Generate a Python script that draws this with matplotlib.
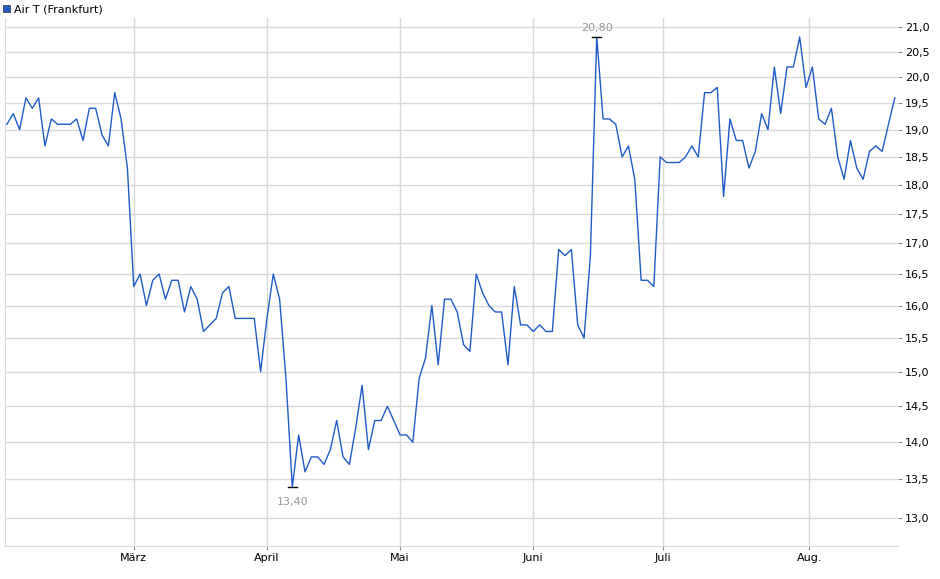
import numpy as np
import matplotlib.pyplot as plt
from matplotlib.ticker import FixedLocator, NullLocator

# daily closing prices
prices = [19.1, 19.3, 19.0, 19.6, 19.4, 19.6, 18.7, 19.2, 19.1, 19.1, 19.1, 19.2, 18.8, 19.4, 19.4,
          18.9, 18.7, 19.7, 19.2, 18.3, 16.3, 16.5, 16.0, 16.4, 16.5, 16.1, 16.4, 16.4, 15.9, 16.3,
          16.1, 15.6, 15.7, 15.8, 16.2, 16.3, 15.8, 15.8, 15.8, 15.8, 15.0, 15.8, 16.5, 16.1, 14.9,
          13.4, 14.1, 13.6, 13.8, 13.8, 13.7, 13.9, 14.3, 13.8, 13.7, 14.2, 14.8, 13.9, 14.3, 14.3,
          14.5, 14.3, 14.1, 14.1, 14.0, 14.9, 15.2, 16.0, 15.1, 16.1, 16.1, 15.9, 15.4, 15.3, 16.5,
          16.2, 16.0, 15.9, 15.9, 15.1, 16.3, 15.7, 15.7, 15.6, 15.7, 15.6, 15.6, 16.9, 16.8, 16.9,
          15.7, 15.5, 16.8, 20.8, 19.2, 19.2, 19.1, 18.5, 18.7, 18.1, 16.4, 16.4, 16.3, 18.5, 18.4,
          18.4, 18.4, 18.5, 18.7, 18.5, 19.7, 19.7, 19.8, 17.8, 19.2, 18.8, 18.8, 18.3, 18.6, 19.3,
          19.0, 20.2, 19.3, 20.2, 20.2, 20.8, 19.8, 20.2, 19.2, 19.1, 19.4, 18.5, 18.1, 18.8, 18.3,
          18.1, 18.6, 18.7, 18.6, 19.1, 19.6]
month_labels = ['März', 'April', 'Mai', 'Juni', 'Juli', 'Aug.']
month_pos = [20, 41, 62, 83, 103.5, 126.5]
y_ticks = [13.0, 13.5, 14.0, 14.5, 15.0, 15.5, 16.0, 16.5, 17.0, 17.5, 18.0, 18.5, 19.0, 19.5, 20.0, 20.5, 21.0]

blue = '#1f5bc6'
grid = '#d9d9d9'

fig = plt.figure(figsize=(9.4, 5.79), dpi=100)
ax = fig.add_axes([5 / 940, 1 - 546 / 579, 893 / 940, 528 / 579])
x = np.arange(len(prices))
ax.plot(x, prices, color=blue, lw=1)

ax.set_yscale('log')
ax.set_ylim(12.65, 21.19)
ax.set_xlim(-0.3, len(prices) - 0.5)
ax.yaxis.set_major_locator(FixedLocator(y_ticks))
ax.yaxis.set_minor_locator(NullLocator())
ax.set_yticklabels([f'{v:.1f}'.replace('.', ',') for v in y_ticks])
ax.yaxis.tick_right()
ax.set_xticks(month_pos)
ax.set_xticklabels(month_labels)
ax.tick_params(labelsize=8, length=3, color='#888888', pad=2)
ax.grid(True, color=grid, lw=1)
ax.set_axisbelow(True)
for s in ['top', 'right']:
    ax.spines[s].set_visible(False)
for s in ['left', 'bottom']:
    ax.spines[s].set_color(grid)

# max / min markers
imax = int(np.argmax(prices))
imin = int(np.argmin(prices))
for i, va, dy in [(imax, 'bottom', 1.004), (imin, 'top', 0.99)]:
    ax.plot([i - 0.7, i + 0.7], [prices[i]] * 2, color='black', lw=1)
    ax.text(i, prices[i] * dy, f'{prices[i]:.2f}'.replace('.', ','), ha='center', va=va,
            fontsize=8, color='#999999')

# legend
fig.patches.append(plt.Rectangle((3 / 940, 1 - 12 / 579), 7 / 940, 7 / 579, transform=fig.transFigure,
                                 facecolor=blue, edgecolor='#333333', lw=0.5))
fig.text(14 / 940, 1 - 9 / 579, 'Air T (Frankfurt)', fontsize=8, va='center')

fig.savefig('out.png', dpi=100)
